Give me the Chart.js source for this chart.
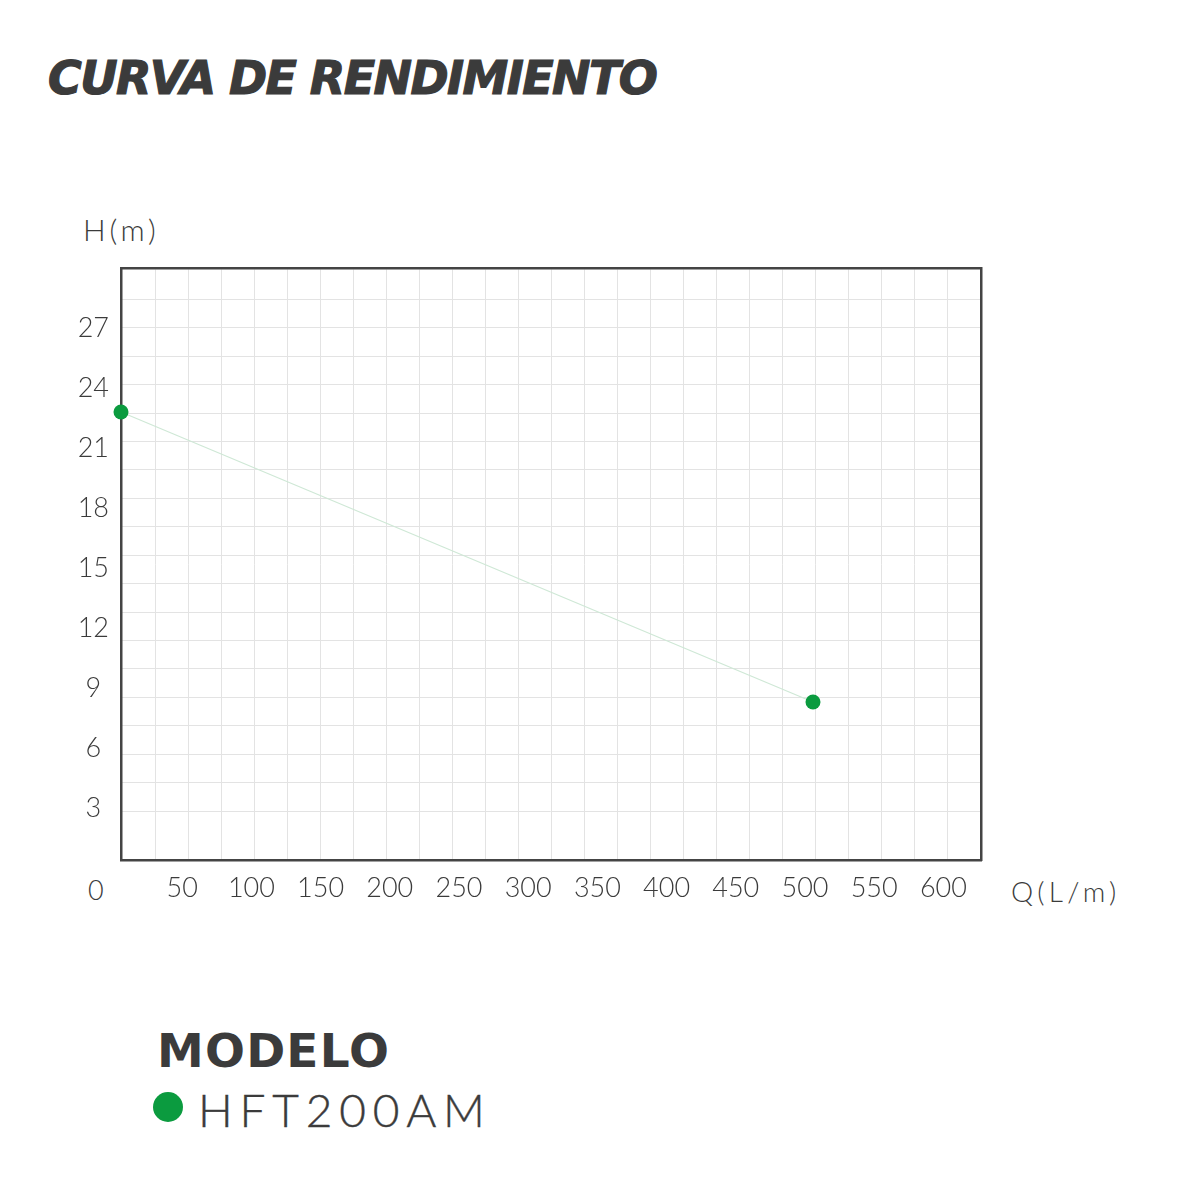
<!DOCTYPE html>
<html>
<head>
<meta charset="utf-8">
<script src="https://cdn.jsdelivr.net/npm/chart.js@4"></script>
<style>
    body { margin: 0; background: #fff; width: 1200px; height: 1200px; position: relative; overflow: hidden; }
    .txt { position: absolute; color: #3b3b3b; line-height: 1; white-space: nowrap; }
    #title { left: 48px; top: 51px; font: italic bold 46px "DejaVu Sans"; letter-spacing: -1.6px; -webkit-text-stroke: 1.2px #3b3b3b; }
    #hLabel { left: 83px; top: 211px; font: 300 30px Lato; letter-spacing: 3.8px; }
    #qLabel { left: 1011px; top: 874px; font: 300 28px Lato; letter-spacing: 4.2px; }
    #zero { left: 88px; top: 873px; font: 300 27px Lato; }
    #modelo { left: 157px; top: 1023px; font: bold 47px "DejaVu Sans"; letter-spacing: 1.2px; }
    #dot { position: absolute; left: 153px; top: 1092px; width: 30px; height: 30px; border-radius: 50%; background: #0b9b3f; }
    #model { left: 198px; top: 1082px; font: 300 46px Lato; letter-spacing: 6.8px; -webkit-text-stroke: 0.4px #3b3b3b; }
    #wrap { position: absolute; left: 0; top: 200px; width: 1200px; height: 760px; }
</style>
</head>
<body>

<div class="txt" id="title">CURVA DE RENDIMIENTO</div>
<div class="txt" id="hLabel">H(m)</div>
<div class="txt" id="qLabel">Q(L/m)</div>
<div class="txt" id="zero">0</div>

<div id="wrap"><canvas id="curveChart"></canvas></div>

<div class="txt" id="modelo">MODELO</div>
<div id="dot"></div>
<div class="txt" id="model">HFT200AM</div>

<script>
/* ---------------- DATA ---------------- */

const modelName = "HFT200AM";
const flowQ = [0, 500];      // Q (L/m)
const headH = [22.4, 7.9];   // H (m)

const qTicks = [50, 100, 150, 200, 250, 300, 350, 400, 450, 500, 550, 600];
const hTicks = [3, 6, 9, 12, 15, 18, 21, 24, 27];

/* ---------------- STYLE ---------------- */

const green = "#0b9b3f";
const frame = "#444444";
const gridColor = "#e3e3e3";
const tickFont = { family: "Lato", weight: 300, size: 27 };

/* ---------------- CHART ---------------- */

const points = flowQ.map((q, i) => ({ x: q, y: headH[i] }));

new Chart(document.getElementById("curveChart"), {

    type: "line",

    data: {
        datasets: [
            {
                label: modelName,
                data: points,
                xAxisID: "x",
                yAxisID: "y",
                borderColor: "#cfe8d6",
                borderWidth: 1.2,
                pointRadius: 7.5,
                pointHoverRadius: 7.5,
                pointBackgroundColor: green,
                pointBorderWidth: 0,
                clip: false
            }
        ]
    },

    options: {
        responsive: true,
        maintainAspectRatio: false,
        animation: false,
        layout: { padding: { top: 68, right: 219, bottom: 40, left: 0 } },
        plugins: { legend: { display: false }, tooltip: { enabled: false } },

        scales: {
            // value axes (carry the labels)
            x: {
                type: "linear",
                position: "bottom",
                min: 0,
                max: 621.4,
                afterBuildTicks: s => { s.ticks = qTicks.map(v => ({ value: v })); },
                afterFit: s => { s.height = 60; },
                grid: { display: false, drawTicks: false },
                border: { display: true, color: frame, width: 2.5 },
                ticks: { font: tickFont, color: "#3b3b3b", padding: 12, labelOffset: -8, maxRotation: 0, autoSkip: false }
            },
            y: {
                type: "linear",
                position: "left",
                min: 0,
                max: 29.6,
                afterBuildTicks: s => { s.ticks = hTicks.map(v => ({ value: v })); },
                afterFit: s => { s.width = 121; },
                grid: { display: false, drawTicks: false },
                border: { display: true, color: frame, width: 2.5 },
                ticks: { font: tickFont, color: "#3b3b3b", padding: 12, labelOffset: 8, crossAlign: "center" }
            },

            // grid axes (only lines and the top / right frame)
            gx: {
                type: "linear",
                position: "top",
                min: -0.04,
                max: 26,
                afterBuildTicks: s => {
                    s.ticks = [];
                    for (let v = 1; v <= 25; v++) s.ticks.push({ value: v });
                },
                afterFit: s => { s.height = 0; },
                grid: { color: gridColor, lineWidth: 1, drawTicks: false },
                border: { display: true, color: frame, width: 2.5 },
                ticks: { display: false }
            },
            gy: {
                type: "linear",
                position: "right",
                min: -0.72,
                max: 20.1,
                afterBuildTicks: s => {
                    s.ticks = [];
                    for (let v = 1; v <= 19; v++) s.ticks.push({ value: v });
                },
                afterFit: s => { s.width = 0; },
                grid: { color: gridColor, lineWidth: 1, drawTicks: false },
                border: { display: true, color: frame, width: 2.5 },
                ticks: { display: false }
            }
        }
    }
});
</script>
</body>
</html>
